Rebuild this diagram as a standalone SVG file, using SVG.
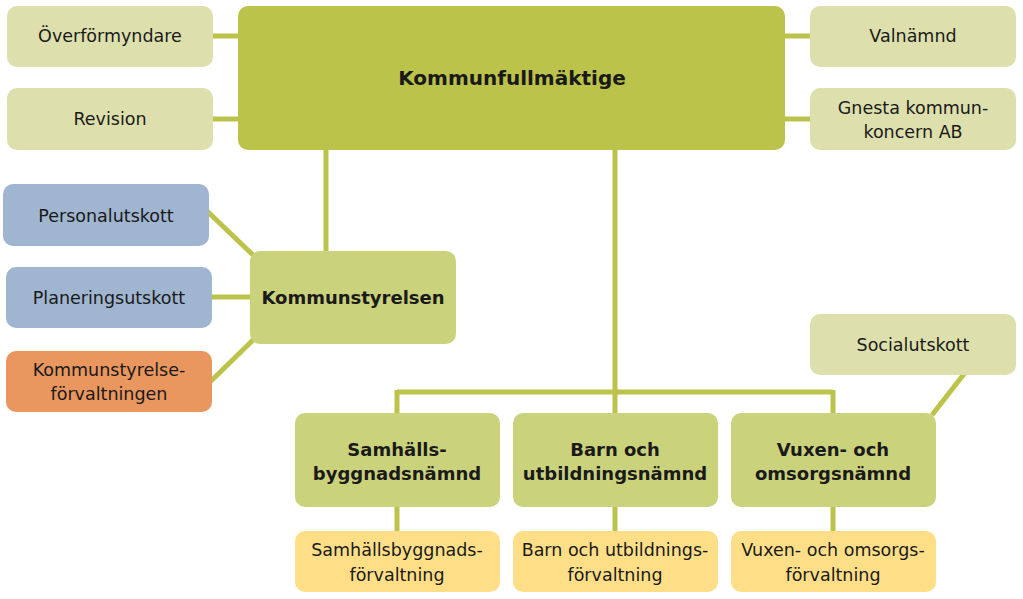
<svg xmlns="http://www.w3.org/2000/svg" width="1023" height="599" viewBox="0 0 1023 599">
<style>
.n rect{rx:10;ry:10}
.lt{fill:#dde0ad}
.main{fill:#bcc34a}
.mid{fill:#cbd27c}
.blue{fill:#9fb5d0}
.orange{fill:#e9965f}
.yel{fill:#fedf88}
text{font-family:"DejaVu Sans","Liberation Sans",sans-serif;font-size:17.5px;fill:#1a1a1a;text-anchor:middle}
.b{font-weight:bold;font-size:18px}
.big{font-size:20px}
.c line{stroke:#bcc34a;stroke-width:5;fill:none}
</style>
<rect width="1023" height="599" fill="#ffffff"/>
<g class="c" id="connectors">
<line x1="212" y1="36" x2="240" y2="36"/>
<line x1="212" y1="119" x2="240" y2="119"/>
<line x1="783" y1="36" x2="811" y2="36"/>
<line x1="783" y1="119" x2="811" y2="119"/>
<line x1="326" y1="148" x2="326" y2="252"/>
<line x1="615" y1="148" x2="615" y2="415"/>
<line x1="397" y1="392" x2="833" y2="392"/>
<line x1="397" y1="390" x2="397" y2="415"/>
<line x1="833" y1="390" x2="833" y2="415"/>
<line x1="207" y1="211" x2="253" y2="255"/>
<line x1="210" y1="297" x2="252" y2="297"/>
<line x1="210" y1="382" x2="253" y2="340"/>
<line x1="964" y1="374" x2="932" y2="415"/>
<line x1="397" y1="505" x2="397" y2="533"/>
<line x1="615" y1="505" x2="615" y2="533"/>
<line x1="833" y1="505" x2="833" y2="533"/>
</g>
<g class="n" id="overformyndare"><rect class="lt" x="7" y="6" width="206" height="61"/><text x="110" y="42">Överförmyndare</text></g>
<g class="n" id="revision"><rect class="lt" x="7" y="88" width="206" height="62"/><text x="110" y="125">Revision</text></g>
<g class="n" id="kommunfullmaktige"><rect class="main" x="238" y="6" width="547" height="144"/><text class="b big" x="512" y="85">Kommunfullmäktige</text></g>
<g class="n" id="valnamnd"><rect class="lt" x="810" y="6" width="206" height="61"/><text x="913" y="42">Valnämnd</text></g>
<g class="n" id="gnesta"><rect class="lt" x="810" y="88" width="206" height="62"/><text x="913" y="114">Gnesta kommun-</text><text x="913" y="138">koncern AB</text></g>
<g class="n" id="personalutskott"><rect class="blue" x="3" y="184" width="206" height="62"/><text x="106" y="222">Personalutskott</text></g>
<g class="n" id="planeringsutskott"><rect class="blue" x="6" y="267" width="206" height="61"/><text x="109" y="304">Planeringsutskott</text></g>
<g class="n" id="ksforvaltning"><rect class="orange" x="6" y="351" width="206" height="61"/><text x="109" y="376">Kommunstyrelse-</text><text x="109" y="400">förvaltningen</text></g>
<g class="n" id="kommunstyrelsen"><rect class="mid" x="250" y="251" width="206" height="93"/><text class="b" x="353" y="304">Kommunstyrelsen</text></g>
<g class="n" id="socialutskott"><rect class="lt" x="810" y="314" width="206" height="61"/><text x="913" y="351">Socialutskott</text></g>
<g class="n" id="shbn"><rect class="mid" x="295" y="413" width="205" height="94"/><text class="b" x="397" y="456">Samhälls-</text><text class="b" x="397" y="480">byggnadsnämnd</text></g>
<g class="n" id="bun"><rect class="mid" x="513" y="413" width="205" height="94"/><text class="b" x="615" y="456">Barn och</text><text class="b" x="615" y="480">utbildningsnämnd</text></g>
<g class="n" id="von"><rect class="mid" x="731" y="413" width="205" height="94"/><text class="b" x="833" y="456">Vuxen- och</text><text class="b" x="833" y="480">omsorgsnämnd</text></g>
<g class="n" id="shbf"><rect class="yel" x="295" y="531" width="205" height="61"/><text x="397" y="556">Samhällsbyggnads-</text><text x="397" y="581">förvaltning</text></g>
<g class="n" id="buf"><rect class="yel" x="513" y="531" width="205" height="61"/><text x="615" y="556">Barn och utbildnings-</text><text x="615" y="581">förvaltning</text></g>
<g class="n" id="vof"><rect class="yel" x="731" y="531" width="205" height="61"/><text x="833" y="556">Vuxen- och omsorgs-</text><text x="833" y="581">förvaltning</text></g>
</svg>
